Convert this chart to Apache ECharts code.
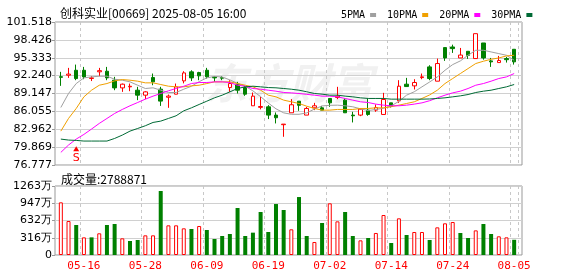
<!DOCTYPE html>
<html><head><meta charset="utf-8">
<script src="https://cdn.jsdelivr.net/npm/echarts@6/dist/echarts.min.js"></script>
<style>html,body{margin:0;padding:0;background:#fff}#c{width:578px;height:276px}</style>
</head><body><div id="c"></div>
<script>
const titleText = '创科实业[00669] 2025-08-05 16:00';
const volumeTitle = '成交量:2788871';
const dates = ['05-13','05-14','05-15','05-16','05-19','05-20','05-21','05-22','05-23','05-26','05-27','05-28','05-29','05-30',
'06-02','06-03','06-04','06-05','06-06','06-09','06-10','06-11','06-12','06-13','06-16','06-17','06-18','06-19','06-20','06-23','06-24','06-25','06-26','06-27','06-30',
'07-02','07-03','07-04','07-07','07-08','07-09','07-10','07-11','07-14','07-15','07-16','07-17','07-18','07-21','07-22','07-23','07-24','07-25','07-28','07-29','07-30','07-31',
'08-01','08-04','08-05'];
const labeledDates = ['05-16','05-28','06-09','06-19','07-02','07-14','07-24','08-05'];
const opens  = [92.05,92.31,93.17,93.17,91.75,92.9,93.0,91.45,90.12,90.3,89.72,88.86,91.91,89.9,88.5,89.03,91.33,92.89,92.77,93.17,92.0,91.9,90.18,90.76,90.18,87.02,86.75,86.84,85.41,83.75,85.81,87.82,85.41,86.67,86.67,88.29,88.46,88.0,85.41,85.41,86.27,86.27,85.52,87.53,87.88,90.76,90.47,91.9,93.75,91.28,97.09,97.2,95.3,96.45,95.19,97.89,94.79,94.5,95.19,96.8];
const closes = [91.95,92.5,91.73,92.02,91.85,93.1,91.85,90.12,90.76,90.4,88.86,89.43,91.16,87.83,88.7,90.3,92.71,91.85,92.2,92.03,91.85,91.8,90.87,89.72,89.03,88.69,86.9,85.41,84.95,83.85,87.2,87.1,86.56,87.02,86.27,87.53,88.69,85.81,85.29,86.44,85.52,86.73,88.11,86.96,90.41,90.35,91.05,92.03,91.74,94.33,95.3,96.91,95.8,95.75,99.5,95.3,94.62,94.85,95.0,94.62];
const lows   = [90.47,91.85,91.45,91.62,91.3,92.14,91.45,89.72,89.43,89.55,88.0,88.17,90.58,87.0,86.67,89.0,90.9,91.3,91.45,91.73,91.16,91.45,89.43,89.15,88.74,87.02,86.4,84.72,83.97,81.66,85.81,86.15,85.41,86.27,86.27,86.84,88.17,85.81,84.14,85.23,85.29,85.98,85.52,86.73,87.53,90.3,89.84,91.62,91.45,91.28,94.79,96.17,95.3,95.13,95.19,95.0,93.75,94.5,94.5,94.15];
const highs  = [92.89,93.58,94.15,93.75,92.15,93.58,93.75,92.03,90.87,90.87,90.3,89.55,92.6,90.3,88.97,90.87,93.0,93.17,92.9,93.58,92.1,92.14,91.45,91.16,90.47,89.32,88.57,87.13,85.87,83.85,88.17,87.82,86.84,87.53,87.0,88.29,90.3,88.29,85.98,86.56,88.29,87.25,89.26,87.53,91.45,91.85,91.62,92.6,94.04,95.19,97.09,97.6,97.03,96.45,99.5,97.89,95.3,95.65,95.48,96.8];
const prevClose = 91.5;
const ma5  = [86.73,89.15,90.87,91.85,92.02,92.14,92.14,91.62,91.45,91.16,90.58,90.01,90.13,89.72,89.32,89.32,89.89,90.4,91.2,91.85,92.1,92.0,91.5,90.9,90.4,89.6,88.6,87.5,86.5,85.8,85.55,85.55,85.8,86.45,87.0,87.1,87.13,87.02,86.85,86.5,86.2,86.39,86.6,87.0,87.8,88.86,89.45,90.3,91.14,92.02,93.17,94.15,94.79,95.76,96.63,96.63,96.34,96.05,95.76,94.9];
const ma10 = [82.64,84.83,86.56,88.57,89.72,90.58,90.87,91.33,91.56,91.45,91.28,90.99,90.99,90.7,90.41,90.3,90.3,90.47,90.58,90.87,91.16,91.16,91.16,90.87,90.58,90.3,89.72,88.86,88.57,88.0,87.71,87.42,86.95,86.56,86.27,86.27,86.39,86.39,86.39,86.56,86.56,86.67,86.67,86.85,87.13,87.42,87.71,88.29,88.9,89.72,90.87,91.74,92.6,93.46,94.33,94.73,95.07,95.3,95.65,95.76];
const ma20 = [78.96,80.23,81.26,82.07,83.0,83.97,84.83,85.69,86.39,87.02,87.59,88.17,88.69,89.15,89.61,90.01,90.4,90.87,91.05,91.05,91.16,91.16,91.05,90.58,90.41,90.01,89.89,89.72,89.55,89.32,89.26,89.15,89.0,88.86,88.69,88.69,88.57,88.29,88.0,87.71,87.59,87.31,87.13,87.02,87.02,87.13,87.31,87.53,87.9,88.4,88.86,89.26,89.55,90.01,90.58,90.87,91.28,91.74,92.02,92.6];
const ma30 = [81.26,81.09,81.03,80.92,80.92,80.92,80.92,81.37,81.95,82.64,83.1,83.57,84.14,84.37,84.83,85.29,86.15,86.67,87.25,87.82,88.4,88.86,89.43,90.01,90.3,90.41,90.3,90.18,90.13,90.01,89.89,89.72,89.45,89.15,89.03,88.86,88.86,88.69,88.57,88.4,88.29,88.29,88.29,88.17,88.17,88.17,88.17,88.17,88.2,88.29,88.4,88.57,88.74,88.97,89.32,89.55,89.72,90.01,90.3,90.7];
const volumes = [964,622,549,323,323,397,549,567,305,256,275,360,360,1171,543,543,488,476,531,458,293,348,384,860,348,409,787,421,933,824,470,1061,348,238,586,946,616,787,348,268,311,403,732,220,671,366,421,421,275,506,580,604,403,311,451,567,384,342,323,278.8871];
const priceTicks = ['76.777','79.869','82.962','86.055','89.147','92.240','95.333','98.426','101.518'];
const priceMin = 76.777, priceMax = 101.518;
const volTicks = ['0','316万','632万','947万','1263万'];
const volMax = 1263;
const maNames = ['5PMA','10PMA','20PMA','30PMA'];
const maColors = ['#a0a0a0','#f0a000','#ff00ff','#006a35'];

const RED = '#ff0000', GREEN = '#008000';
const candleData = opens.map((o,i)=>[o, closes[i], lows[i], highs[i]]);
const volData = volumes.map((v,i)=>{
  const pc = i===0 ? prevClose : closes[i-1];
  const up = closes[i] >= pc;
  return {value:v, itemStyle: up ? {color:'#fff', borderColor:RED, borderWidth:1} : {color:GREEN, borderColor:GREEN, borderWidth:0}};
});
const showIdx = (i)=> labeledDates.indexOf(dates[i]) >= 0;
const labelFont = 'DejaVu Sans';
const monoFont = 'DejaVu Sans Mono';

const chart = echarts.init(document.getElementById('c'), null, {renderer:'canvas'});
const dashed = {show:true, interval:(i)=>showIdx(i), lineStyle:{color:'#c8c8c8', type:[3,3], width:1}};
const option = {
  animation:false,
  backgroundColor:'#fff',
  title:[
    {text:titleText, left:55, top:2, textStyle:{fontSize:12, fontWeight:'normal', color:'#000', fontFamily:'Noto Sans CJK SC'}},
    {text:volumeTitle, left:56, top:168, textStyle:{fontSize:12, fontWeight:'normal', color:'#000', fontFamily:'Noto Sans CJK SC'}}
  ],
  legend:{data:maNames, left:336, top:5, align:'right', icon:'rect', itemWidth:6, itemHeight:4, itemGap:11,
    textStyle:{fontSize:10, color:'#000', fontFamily:monoFont, padding:[0,0,0,0]}},
  graphic:[{type:'text', left:205, top:62, z:0, silent:true,
    style:{text:'东方财富', fill:'#f1f1f1', font:'italic bold 42px "Noto Sans CJK SC"'}}],
  grid:[
    {left:55, top:22, width:467, height:143, show:true, borderColor:'#999', borderWidth:1, backgroundColor:'transparent'},
    {left:57, top:22, width:461, height:143},
    {left:55, top:186, width:467, height:69, show:true, borderColor:'#999', borderWidth:1, backgroundColor:'transparent'},
    {left:57, top:186, width:461, height:69}
  ],
  xAxis:[
    {gridIndex:0, type:'value', min:0, max:1, show:false},
    {gridIndex:1, type:'category', data:dates, boundaryGap:true, axisLine:{show:false}, axisTick:{show:false}, axisLabel:{show:false}, splitLine:dashed},
    {gridIndex:2, type:'value', min:0, max:1, show:false},
    {gridIndex:3, type:'category', data:dates, boundaryGap:true, axisLine:{show:false}, axisTick:{show:false},
      axisLabel:{show:true, interval:(i)=>showIdx(i), color:RED, fontSize:11, fontFamily:monoFont, margin:6}, splitLine:dashed}
  ],
  yAxis:[
    {gridIndex:0, type:'value', min:0, max:8, interval:1, axisLine:{show:false},
      axisTick:{show:true, length:3, lineStyle:{color:'#999'}},
      axisLabel:{formatter:(v)=>priceTicks[v], color:'#000', fontSize:11, fontFamily:labelFont, margin:3},
      splitLine:{show:true, lineStyle:{color:'#d0d0d0', width:1}}},
    {gridIndex:1, type:'value', min:priceMin, max:priceMax, show:false, splitLine:{show:false}},
    {gridIndex:2, type:'value', min:0, max:4, interval:1, axisLine:{show:false},
      axisTick:{show:true, length:3, lineStyle:{color:'#999'}},
      axisLabel:{formatter:(v)=>volTicks[v], color:'#000', fontSize:11, fontFamily:labelFont, margin:3},
      splitLine:{show:true, lineStyle:{color:'#d0d0d0', width:1}}},
    {gridIndex:3, type:'value', min:0, max:volMax, show:false, splitLine:{show:false}}
  ],
  series:[
    {type:'candlestick', name:'K', xAxisIndex:1, yAxisIndex:1, data:candleData, barWidth:4, z:3,
      itemStyle:{color:'#fff', color0:GREEN, borderColor:RED, borderColor0:GREEN, borderWidth:1},
      markPoint:{symbol:'triangle', symbolSize:[6,5], itemStyle:{color:RED},
        label:{show:true, formatter:'S', position:'bottom', distance:1, color:RED, fontSize:11, fontFamily:labelFont},
        data:[{coord:[dates[2], 79.6]}]}},
    ...maNames.map((n,k)=>({type:'line', name:n, xAxisIndex:1, yAxisIndex:1, data:[ma5,ma10,ma20,ma30][k],
      symbol:'none', color:maColors[k], lineStyle:{width:1, color:maColors[k]}, z:4})),
    {type:'bar', name:'VOL', xAxisIndex:3, yAxisIndex:3, data:volData, barWidth:4}
  ]
};
chart.setOption(option);
</script></body></html>
